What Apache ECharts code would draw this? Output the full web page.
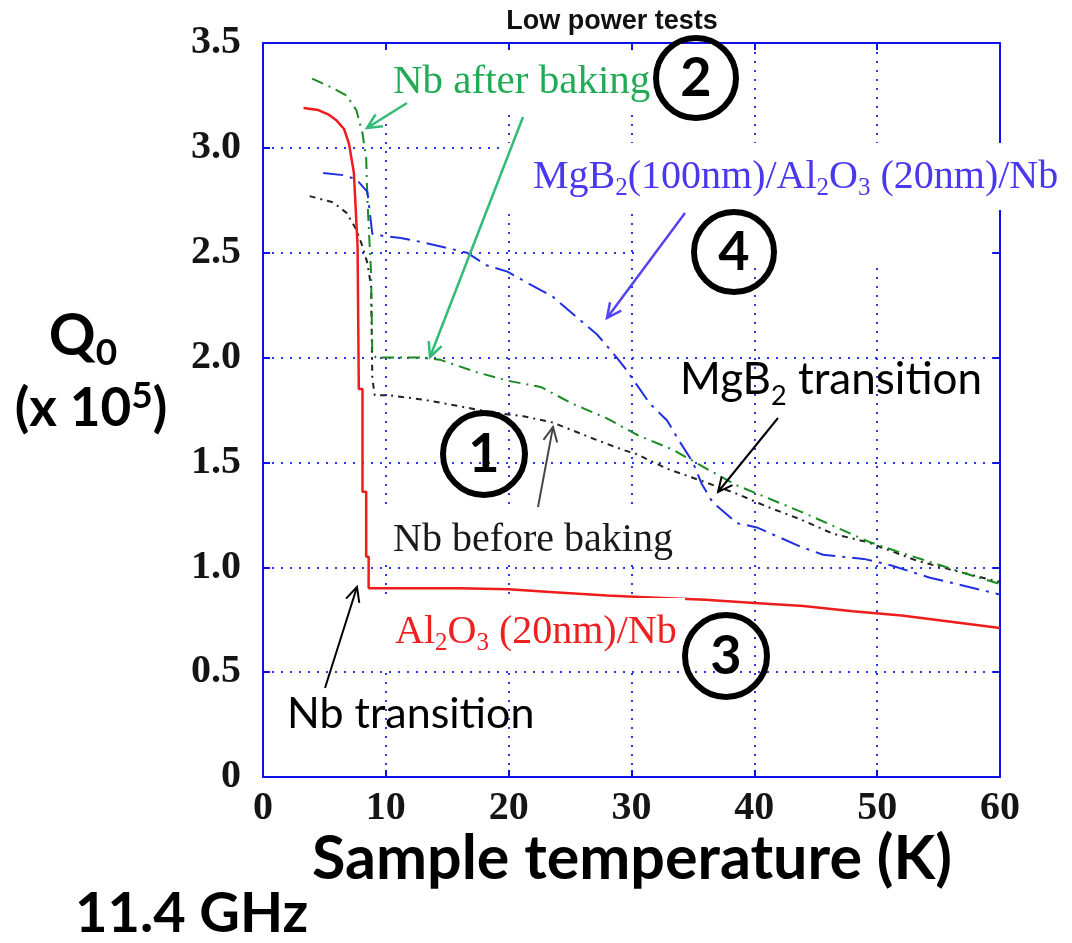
<!DOCTYPE html>
<html><head><meta charset="utf-8">
<script src="https://cdn.jsdelivr.net/npm/echarts@6/dist/echarts.min.js"></script>
<style>html,body{margin:0;padding:0;background:#fff}#c{width:1072px;height:943px}</style>
</head><body><div id="c"></div>
<script>
// ---- data ----
const yTickLabels = ['0','0.5','1.0','1.5','2.0','2.5','3.0','3.5'];

// 1: Nb before baking
const nbBeforeT = [3.8, 5.7, 6.8, 7.6, 8.1, 8.5, 8.8, 8.9, 9.1, 10.3, 13, 15.8, 18.5, 21.2, 23.6, 26.6, 29.3, 30.4, 32.9, 35.8, 38.6, 41, 43.7, 46.4, 49.2, 53.3, 55.9, 58.6, 60];
const nbBeforeQ = [2.77, 2.74, 2.69, 2.61, 2.53, 2.45, 2.34, 1.90, 1.82, 1.82, 1.80, 1.77, 1.74, 1.72, 1.69, 1.62, 1.56, 1.54, 1.47, 1.41, 1.35, 1.29, 1.23, 1.16, 1.12, 1.03, 0.99, 0.95, 0.93];

// 2: Nb after baking
const nbAfterT = [4.0, 5.5, 6.8, 7.6, 8.1, 8.4, 8.5, 8.8, 8.9, 9.2, 12.8, 14.4, 17.4, 19.9, 22.6, 25.2, 28, 30.5, 33.4, 35.8, 38.6, 41.1, 44, 46.7, 49.4, 51.9, 54.6, 57.2, 60];
const nbAfterQ = [3.33, 3.29, 3.25, 3.18, 3.07, 2.95, 2.75, 2.40, 2.02, 2.00, 2.00, 1.99, 1.93, 1.89, 1.86, 1.78, 1.71, 1.63, 1.56, 1.48, 1.39, 1.33, 1.26, 1.19, 1.12, 1.07, 1.02, 0.97, 0.92];

// 3: Al2O3(20nm)/Nb
const alNbT = [3.3, 4.5, 5.3, 6.0, 6.6, 7.0, 7.4, 7.7, 7.8, 8.1, 8.1, 8.4, 8.4, 8.6, 8.6, 12, 16, 20, 24, 28, 32, 36, 40, 44, 48, 52, 56, 60];
const alNbQ = [3.19, 3.18, 3.16, 3.13, 3.09, 3.02, 2.88, 2.53, 1.85, 1.85, 1.36, 1.36, 1.05, 1.05, 0.90, 0.90, 0.90, 0.895, 0.88, 0.865, 0.855, 0.845, 0.83, 0.815, 0.79, 0.77, 0.74, 0.71];

// 4: MgB2(100nm)/Al2O3(20nm)/Nb
const mgbT = [4.9, 6.5, 7.6, 8.5, 8.7, 8.9, 9.8, 11.2, 13, 16.6, 18.2, 19.9, 21.7, 23.6, 27.2, 28.8, 29.6, 31.5, 32.9, 33.7, 35, 35.7, 36.6, 38.6, 40.2, 43.7, 45.6, 48.9, 51.1, 54.3, 56.5, 60];
const mgbQ = [2.88, 2.87, 2.85, 2.79, 2.69, 2.59, 2.58, 2.57, 2.55, 2.50, 2.44, 2.41, 2.35, 2.29, 2.11, 2.00, 1.94, 1.78, 1.70, 1.62, 1.50, 1.40, 1.31, 1.21, 1.19, 1.10, 1.06, 1.04, 1.01, 0.95, 0.92, 0.87];

function pairs(t, q) { return t.map((v, i) => [v, q[i]]); }

// ---- chart ----
const chart = echarts.init(document.getElementById('c'), null, {renderer: 'canvas'});
const BLUE = '#1010e8';
const GRIDC = '#2838e6';
const SERIF = '"Liberation Serif", "Times New Roman", serif';
const SANS = 'Lato, "Open Sans", sans-serif';

function axisBase(pos, showLabel) {
  return {
    type: 'value', position: pos,
    axisLine: {show: true, onZero: false, lineStyle: {color: BLUE, width: 2}},
    axisTick: {show: true, inside: true, length: 7, lineStyle: {color: BLUE, width: 2}},
    axisLabel: {show: showLabel, fontFamily: SERIF, fontWeight: 'bold', fontSize: 40, color: '#151515'},
    splitLine: {show: showLabel, lineStyle: {color: GRIDC, width: 2, type: [2, 7]}}
  };
}

const xMain = Object.assign(axisBase('bottom', true), {min: 0, max: 60, interval: 10});
xMain.axisLabel.margin = 12;
const xTop = Object.assign(axisBase('top', false), {min: 0, max: 60, interval: 10});
const yMain = Object.assign(axisBase('left', true), {min: 0, max: 3.5, interval: 0.5});
yMain.axisLabel.margin = 22;
yMain.axisLabel.formatter = v => yTickLabels[Math.round(v / 0.5)];
const yRight = Object.assign(axisBase('right', false), {min: 0, max: 3.5, interval: 0.5});

// text measuring for sub/superscripts
const mctx = document.createElement('canvas').getContext('2d');
function tw(font, t) { mctx.font = font; return mctx.measureText(t).width; }
function composite(x, y, parts, align, fill) {
  const widths = parts.map(p => tw(p.font, p.t));
  const total = widths.reduce((a, b) => a + b, 0);
  let cx = align === 'center' ? x - total / 2 : x;
  return parts.map((p, i) => {
    const el = {type: 'text', z: 100, x: cx, y: y + (p.dy || 0),
      style: {text: p.t, font: p.font, fill: fill, textAlign: 'left', textVerticalAlign: 'middle'}};
    cx += widths[i];
    return el;
  });
}

function arrow(x1, y1, x2, y2, color, w) {
  const a = Math.atan2(y2 - y1, x2 - x1);
  const L = 16, sp = 0.45;
  const p1 = [x2 - L * Math.cos(a - sp), y2 - L * Math.sin(a - sp)];
  const p2 = [x2 - L * Math.cos(a + sp), y2 - L * Math.sin(a + sp)];
  return [
    {type: 'line', z: 100, shape: {x1, y1, x2, y2}, style: {stroke: color, lineWidth: w}},
    {type: 'polyline', z: 100, shape: {points: [p1, [x2, y2], p2]}, style: {stroke: color, lineWidth: w, fill: null}}
  ];
}
function whiteRect(x, y, w, h) {
  return {type: 'rect', z: 90, shape: {x, y, width: w, height: h}, style: {fill: '#fff'}};
}
function circled(cx, cy, r, num) {
  return [
    {type: 'circle', z: 100, shape: {cx, cy, r}, style: {stroke: '#000', lineWidth: 6, fill: null}},
    {type: 'text', z: 101, x: cx, y: cy + 1, style: {text: num, font: 'bold 54px ' + SANS, fill: '#000', textAlign: 'center', textVerticalAlign: 'middle'}}
  ];
}

const F40 = '40px ' + SERIF, F25 = '25px ' + SERIF;
const SN = '44px ' + SANS, SS = '27px ' + SANS;
const QB = 'bold 58px ' + SANS, QS = 'bold 37px ' + SANS, PB = 'bold 53px ' + SANS;

const graphics = [
  whiteRect(380, 52, 272, 63),
  whiteRect(505, 143, 567, 67),
  whiteRect(640, 210, 350, 58),
  whiteRect(383, 505, 307, 60),
  whiteRect(383, 598, 302, 68),
  // title
  {type: 'text', z: 100, x: 612, y: 22, style: {text: 'Low power tests', font: 'bold 27px "Liberation Sans", Arial, sans-serif', fill: '#111', textAlign: 'center', textVerticalAlign: 'middle'}},
  // y axis title
  ...composite(83, 336, [{t: 'Q', font: QB}, {t: '0', font: QS, dy: 17}], 'center', '#000'),
  ...composite(91, 409, [{t: '(x 10', font: PB}, {t: '5', font: QS, dy: -13}, {t: ')', font: PB}], 'center', '#000'),
  // x axis title
  {type: 'text', z: 100, x: 632, y: 859, style: {text: 'Sample temperature (K)', font: 'bold 61px ' + SANS, fill: '#000', textAlign: 'center', textVerticalAlign: 'middle'}},
  {type: 'text', z: 100, x: 75, y: 914, style: {text: '11.4 GHz', font: 'bold 56px ' + SANS, fill: '#000', textAlign: 'left', textVerticalAlign: 'middle'}},
  // series labels
  {type: 'text', z: 100, x: 393, y: 82, style: {text: 'Nb after baking', font: '41px ' + SERIF, fill: '#22aa55', textAlign: 'left', textVerticalAlign: 'middle'}},
  ...composite(533, 177, [{t: 'MgB', font: F40}, {t: '2', font: F25, dy: 11}, {t: '(100nm)/Al', font: F40}, {t: '2', font: F25, dy: 11},
                          {t: 'O', font: F40}, {t: '3', font: F25, dy: 11}, {t: ' (20nm)/Nb', font: F40}], 'left', '#4a38ee'),
  {type: 'text', z: 100, x: 393, y: 540, style: {text: 'Nb before baking', font: F40, fill: '#1a1a1a', textAlign: 'left', textVerticalAlign: 'middle'}},
  ...composite(395, 632, [{t: 'Al', font: F40}, {t: '2', font: F25, dy: 11}, {t: 'O', font: F40}, {t: '3', font: F25, dy: 11},
                          {t: ' (20nm)/Nb', font: F40}], 'left', '#ee2020'),
  ...composite(680, 380, [{t: 'MgB', font: SN}, {t: '2', font: SS, dy: 16}, {t: ' transition', font: SN}], 'left', '#000'),
  {type: 'text', z: 100, x: 287, y: 714, style: {text: 'Nb transition', font: '43px ' + SANS, fill: '#000', textAlign: 'left', textVerticalAlign: 'middle'}},
  ...arrow(407, 103, 367, 128, '#33bb77', 2.5),
  ...arrow(523, 117, 430, 357, '#33bb77', 2.5),
  ...arrow(685, 213, 607, 318, '#5544ee', 2.5),
  ...arrow(538, 507, 553, 427, '#444', 2),
  ...arrow(778, 418, 718, 492, '#000', 2),
  ...arrow(325, 688, 357, 587, '#000', 2),
  ...circled(696, 78, 40, '2'),
  ...circled(734, 252, 40, '4'),
  ...circled(484, 454, 41, '1'),
  ...circled(726, 656, 41, '3')
];

chart.setOption({
  animation: false,
  backgroundColor: '#fff',
  grid: {left: 263, top: 43, right: 72, bottom: 166, show: false},
  xAxis: [xMain, xTop],
  yAxis: [yMain, yRight],
  series: [
    {name: 'Nb before baking', type: 'line', data: pairs(nbBeforeT, nbBeforeQ), showSymbol: false, z: 3,
     lineStyle: {color: '#222', width: 2, type: [6, 5, 2, 5]}},
    {name: 'Nb after baking', type: 'line', data: pairs(nbAfterT, nbAfterQ), showSymbol: false, z: 3,
     lineStyle: {color: '#1a8a22', width: 2, type: [12, 6, 2, 6]}},
    {name: 'Al2O3(20nm)/Nb', type: 'line', data: pairs(alNbT, alNbQ), showSymbol: false, z: 4,
     lineStyle: {color: '#ee1c1c', width: 2.5, type: 'solid'}},
    {name: 'MgB2(100nm)/Al2O3(20nm)/Nb', type: 'line', data: pairs(mgbT, mgbQ), showSymbol: false, z: 3,
     lineStyle: {color: '#2030e0', width: 2, type: [20, 7, 3, 7]}}
  ],
  graphic: graphics
});
</script>
</body></html>
